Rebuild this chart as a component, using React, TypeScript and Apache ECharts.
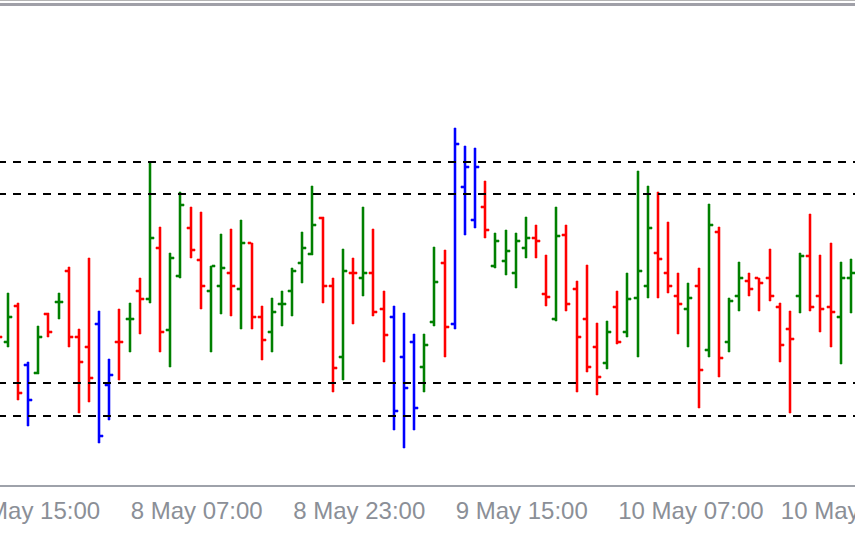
import React, { useEffect, useRef } from "react";
import * as echarts from "echarts";

// Hourly bars. Index 0 of the arrays is the bar of 7 May 18:00 (only its close tick is visible).
const FIRST_LABEL_DAY = 7;
const FIRST_LABEL_HOUR = 15; // first category (off-screen left) is 7 May 15:00
const LEAD = 3; // empty categories before the first bar
const LABEL_EVERY = 16;

const opens = [
  175, 158, 194, 135, 127, 186, 198, 229, 163, 153, 176, 115, 158, 181, 209, 201, 252, 170, 224, 272,
  240, 209, 214, 227, 211, 257, 183, 168, 196, 209, 237, 246, 282, 214, 143, 227, 222, 227, 191, 183,
  143, 158, 133, 178, 237, 176, 313, 280, 293, 234, 239, 227, 252, 262, 206, 181, 265, 211, 181, 153,
  137, 193, 168, 202, 214, 247, 227, 204, 191, 214, 150, 268, 158, 204, 219, 222, 222, 193, 171, 204,
  244, 204, 193, 183, 222,
];
const highs = [
  185, 207, 197, 138, 174, 187, 207, 233, 171, 242, 189, 141, 191, 197, 222, 337, 273, 247, 308, 293,
  288, 234, 266, 271, 280, 257, 194, 202, 209, 232, 268, 314, 283, 222, 251, 242, 293, 271, 209, 194,
  187, 166, 166, 253, 250, 372, 354, 352, 319, 267, 270, 267, 283, 275, 245, 293, 275, 219, 235, 177,
  179, 209, 227, 329, 314, 308, 278, 227, 217, 232, 296, 273, 202, 238, 227, 222, 251, 197, 189, 247,
  286, 245, 257, 238, 241,
];
const lows = [
  150, 154, 101, 75, 127, 164, 182, 154, 88, 99, 58, 81, 121, 149, 167, 198, 149, 134, 223, 243,
  192, 149, 187, 185, 172, 172, 141, 149, 175, 185, 218, 246, 198, 109, 121, 177, 205, 185, 139, 71,
  53, 71, 109, 175, 144, 172, 266, 273, 263, 233, 226, 213, 243, 243, 195, 180, 190, 109, 129, 106,
  132, 157, 164, 144, 203, 203, 208, 167, 154, 93, 144, 124, 149, 190, 205, 190, 200, 139, 88, 188,
  190, 169, 154, 137, 188,
];
const closes = [
  163, 183, 107, 100, 163, 168, 198, 163, 138, 122, 64, 125, 157.8, 181, 201, 262, 168, 242, 295, 250,
  214, 234, 232, 214, 257, 183, 160, 188, 196, 229, 252, 275, 214, 132, 229, 226.8, 227, 188, 165, 89,
  112, 92, 155, 218, 173, 356, 333, 333, 270, 259, 249, 259, 262, 259, 203, 264, 196, 163, 133, 123,
  168, 158, 201, 229, 272, 241, 214, 196, 202, 130, 275, 142, 199, 222, 211, 217, 204, 155, 161, 244,
  193, 191, 188, 222, 227,
];

// Horizontal dashed levels (outer pair / inner pair)
const levels = [338, 306, 117, 84];

const GREEN = "#008000";
const RED = "#ff0000";
const BLUE = "#0000ff";
const HALO: Record<string, string> = {
  "#008000": "rgba(0,128,0,0.55)",
  "#ff0000": "rgba(255,0,0,0.55)",
  "#0000ff": "rgba(0,0,255,0.55)",
};
const AXIS = "#9ea2aa";

const categoryCount = LEAD + opens.length;
const timeLabels: string[] = [];
for (let k = 0; k < categoryCount; k++) {
  const hrs = FIRST_LABEL_HOUR + k;
  const day = FIRST_LABEL_DAY + Math.floor(hrs / 24);
  const h = hrs % 24;
  timeLabels.push(`${day} May ${h < 10 ? "0" + h : h}:00`);
}

const SHIFT = 38; // the chart canvas starts 38px left of the visible window
const CHART_W = 894;

export default function App() {
  const ref = useRef<HTMLDivElement>(null);
  useEffect(() => {
    document.body.style.margin = "0";
    const chart = echarts.init(ref.current!, undefined, { renderer: "svg" });
    const top = Math.max(...levels);
    const bottom = Math.min(...levels);
    const data = opens.map((o, j) => [j + LEAD, o, highs[j], lows[j], closes[j]]);
    chart.setOption({
      animation: false,
      backgroundColor: "#ffffff",
      grid: { left: 0, right: 0, top: 0, bottom: 48, containLabel: false, outerBoundsMode: "none" },
      xAxis: {
        type: "category",
        data: timeLabels,
        boundaryGap: true,
        axisLine: { lineStyle: { color: AXIS, width: 2 } },
        axisTick: {
          alignWithLabel: true,
          interval: (i: number) => i % LABEL_EVERY === 0,
          length: 9,
          lineStyle: { color: AXIS, width: 2 },
        },
        axisLabel: {
          interval: (i: number) => i % LABEL_EVERY === 0,
          align: "left",
          color: "#8b8f97",
          fontFamily: "Liberation Sans",
          fontSize: 24,
          margin: 12,
          padding: [0, 0, 0, 1],
          hideOverlap: false,
        },
        splitLine: { show: false },
      },
      yAxis: { type: "value", min: 14, max: 500, show: false, splitLine: { show: false } },
      graphic: [
        { type: "rect", shape: { x: 0, y: 0, width: CHART_W, height: 1 }, style: { fill: "#b4b4b4" } },
        { type: "rect", shape: { x: 0, y: 3, width: CHART_W, height: 3 }, style: { fill: "#a0a0a8" } },
      ],
      series: [
        {
          type: "custom",
          data,
          encode: { x: 0, y: [1, 2, 3, 4] },
          renderItem: (params: any, api: any) => {
            const idx = api.value(0);
            const o = api.value(1);
            const h = api.value(2);
            const l = api.value(3);
            const c = api.value(4);
            const x = Math.round(api.coord([idx, o])[0]);
            const yo = Math.round(api.coord([idx, o])[1]);
            const yh = Math.round(api.coord([idx, h])[1]);
            const yl = Math.round(api.coord([idx, l])[1]);
            const yc = Math.round(api.coord([idx, c])[1]);
            const color = h > top || l < bottom ? BLUE : c >= o ? GREEN : RED;
            const st = { fill: color, stroke: HALO[color], lineWidth: 1 };
            return {
              type: "group",
              children: [
                { type: "rect", shape: { x: x - 1, y: yh, width: 2, height: yl - yh + 1 }, style: st },
                { type: "rect", shape: { x: x - 4, y: yo - 1, width: 3, height: 2 }, style: st },
                { type: "rect", shape: { x: x + 1, y: yc - 1, width: 3, height: 2 }, style: st },
              ],
            };
          },
          markLine: {
            silent: true,
            symbol: "none",
            label: { show: false },
            emphasis: { disabled: true },
            lineStyle: { color: "#000000", width: 2, type: [8, 7], dashOffset: 8.7 },
            data: levels.map((v) => ({ yAxis: v })),
          },
        },
      ],
    });
    return () => chart.dispose();
  }, []);
  return (
    <div style={{ position: "relative", width: 855, height: 534, overflow: "hidden", background: "#ffffff" }}>
      <div ref={ref} style={{ position: "absolute", left: -SHIFT, top: 0, width: CHART_W, height: 534 }} />
    </div>
  );
}
